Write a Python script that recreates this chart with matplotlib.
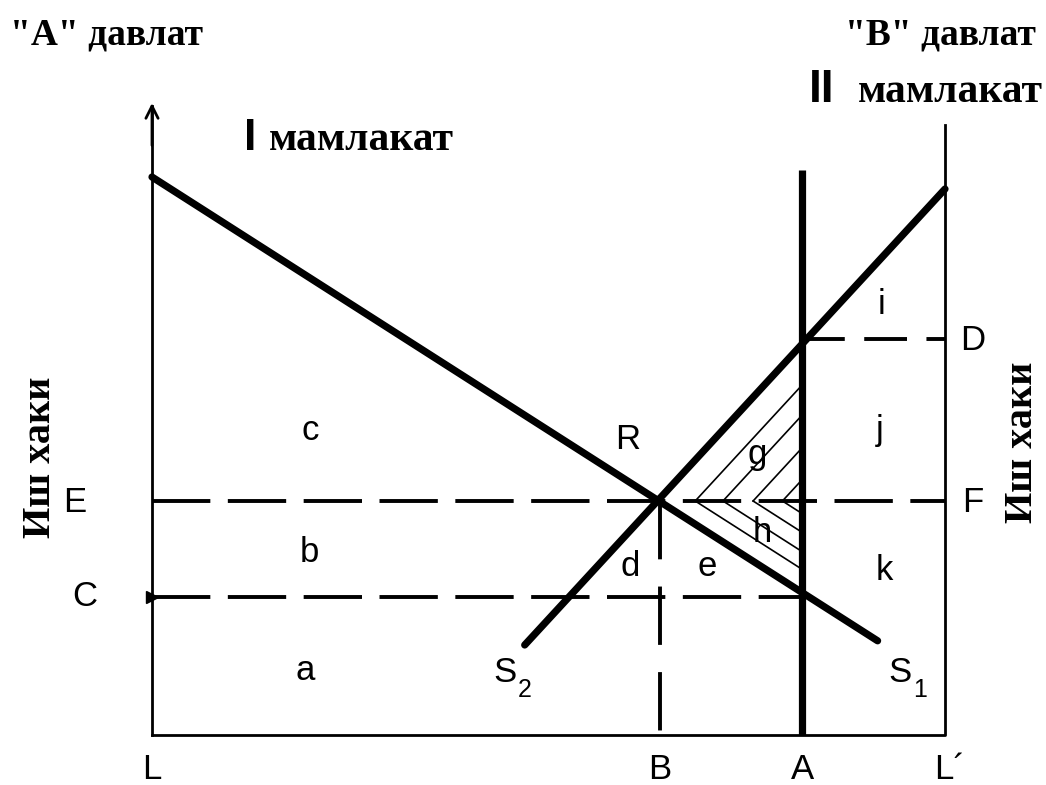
import matplotlib.pyplot as plt
import numpy as np

# Диаграмма: иш хаки (ось Y) и распределение труда между странами (ось X, L..L')
x_left, x_right = 0, 100          # L и L'
x_B, x_A = 64, 82                 # точки B и A на оси
wage_E, wage_C, wage_D = 39, 23, 66

s1_x = [0, 91.5]                  # кривая S1 (убывающая)
s1_y = [93, 15.7]
s2_x = [47, 100]                  # кривая S2 (возрастающая)
s2_y = [15, 91]
a_line_top = 94.2                 # верх вертикальной линии A
axis_top_left = 105.8
axis_top_right = 101.7

hatch_vertex_x = [68.5, 72, 75.8, 79.5]   # вершины штриховки на линии E

point_labels = ['c', 'R', 'g', 'j', 'i', 'D', 'E', 'F', 'b', 'd', 'e', 'h', 'k', 'C', 'a']
point_x = [19.9, 60, 76.3, 91.8, 92, 103.5, -9.7, 103.5, 19.9, 60.3, 70, 77, 92.4, -8.5, 19.3]
point_y = [50.8, 49.2, 46.7, 50.8, 71.7, 65.8, 38.8, 38.8, 30.5, 28.0, 28.0, 33.8, 27.5, 23, 10.8]

axis_labels = ['L', 'B', 'A', 'L\u00b4']
axis_label_x = [0, x_B, x_A, 100.6]

fig = plt.figure(figsize=(10.46, 7.85), dpi=100)
ax = fig.add_axes([152 / 1046, 50 / 785, 793 / 1046, 600 / 785])
ax.set_xlim(0, 100)
ax.set_ylim(0, 100)
ax.axis('off')

thin = 2.0
thick = 5.2
dash_style = (0, (15, 4.5))

# оси
ax.plot([x_left, x_right, x_right], [0, 0, axis_top_right], color='black', lw=thin, clip_on=False)
ax.plot([x_left, x_left], [0, axis_top_left - 1], color='black', lw=thin, clip_on=False)
ax.annotate('', xy=(x_left, axis_top_left), xytext=(x_left, axis_top_left - 8),
            arrowprops=dict(arrowstyle='->', lw=thin, mutation_scale=22, color='black'),
            annotation_clip=False)
ax.plot([x_left], [wage_C], marker='>', ms=9, color='black', clip_on=False)

# пунктирные линии
ax.plot([x_left, x_right], [wage_E, wage_E], color='black', lw=2.8, ls=dash_style, clip_on=False)
ax.plot([x_left, x_A], [wage_C, wage_C], color='black', lw=2.8, ls=dash_style, clip_on=False)
ax.plot([x_A, x_right], [wage_D, wage_D], color='black', lw=2.8, ls=(0, (11, 5)), clip_on=False)
ax.plot([x_B, x_B], [wage_E, 0], color='black', lw=2.8, ls=(0, (15, 7)), clip_on=False)

# толстые линии
ax.plot([x_A, x_A], [0, a_line_top], color='black', lw=thick, solid_capstyle='butt', clip_on=False)
ax.plot(s1_x, s1_y, color='black', lw=thick, solid_capstyle='round', clip_on=False)
ax.plot(s2_x, s2_y, color='black', lw=thick, solid_capstyle='round', clip_on=False)

# штриховка треугольника (g и h)
k1 = (s1_y[1] - s1_y[0]) / (s1_x[1] - s1_x[0])
k2 = (s2_y[1] - s2_y[0]) / (s2_x[1] - s2_x[0])
for xv in hatch_vertex_x:
    ax.plot([xv, x_A], [wage_E, wage_E + k2 * (x_A - xv)], color='black', lw=1.2)
    ax.plot([xv, x_A], [wage_E, wage_E + k1 * (x_A - xv)], color='black', lw=1.2)

# буквенные метки
font_letters = dict(family='Liberation Sans', fontsize=25, ha='center', va='center', color='black')
for lab, px, py in zip(point_labels, point_x, point_y):
    ax.text(px, py, lab, clip_on=False, **font_letters)
for lab, px in zip(axis_labels, axis_label_x):
    ax.text(px, -5.8, lab, clip_on=False, **font_letters)

ax.text(44.5, 10.5, 'S', clip_on=False, **font_letters)
ax.text(47.0, 7.5, '2', clip_on=False, family='Liberation Sans', fontsize=18, ha='center', va='center')
ax.text(94.3, 10.5, 'S', clip_on=False, **font_letters)
ax.text(96.8, 7.5, '1', clip_on=False, family='Liberation Sans', fontsize=18, ha='center', va='center')

# заголовки
serif_bold = dict(family='Liberation Serif', fontweight='bold', color='black')
fig.text(10 / 1046, 1 - 35 / 785, '"A" давлат', fontsize=27, ha='left', va='center', **serif_bold)
fig.text(1036 / 1046, 1 - 35 / 785, '"B" давлат', fontsize=27, ha='right', va='center', **serif_bold)

fig.text(244 / 1046, 1 - 138 / 785, 'I', family='Liberation Sans', fontweight='bold',
         fontsize=32, ha='left', va='center')
fig.text(269 / 1046, 1 - 140 / 785, 'мамлакат', fontsize=30, ha='left', va='center', **serif_bold)
fig.text(809 / 1046, 1 - 90 / 785, 'II', family='Liberation Sans', fontweight='bold',
         fontsize=33, ha='left', va='center')
fig.text(1043 / 1046, 1 - 92 / 785, 'мамлакат', fontsize=30, ha='right', va='center', **serif_bold)

fig.text(41 / 1046, 1 - 457 / 785, 'Иш хаки', fontsize=29, rotation=90, ha='center', va='center', **serif_bold)
fig.text(1022 / 1046, 1 - 442 / 785, 'Иш хаки', fontsize=29, rotation=90, ha='center', va='center', **serif_bold)

fig.savefig('out.png', dpi=100, facecolor='white')
